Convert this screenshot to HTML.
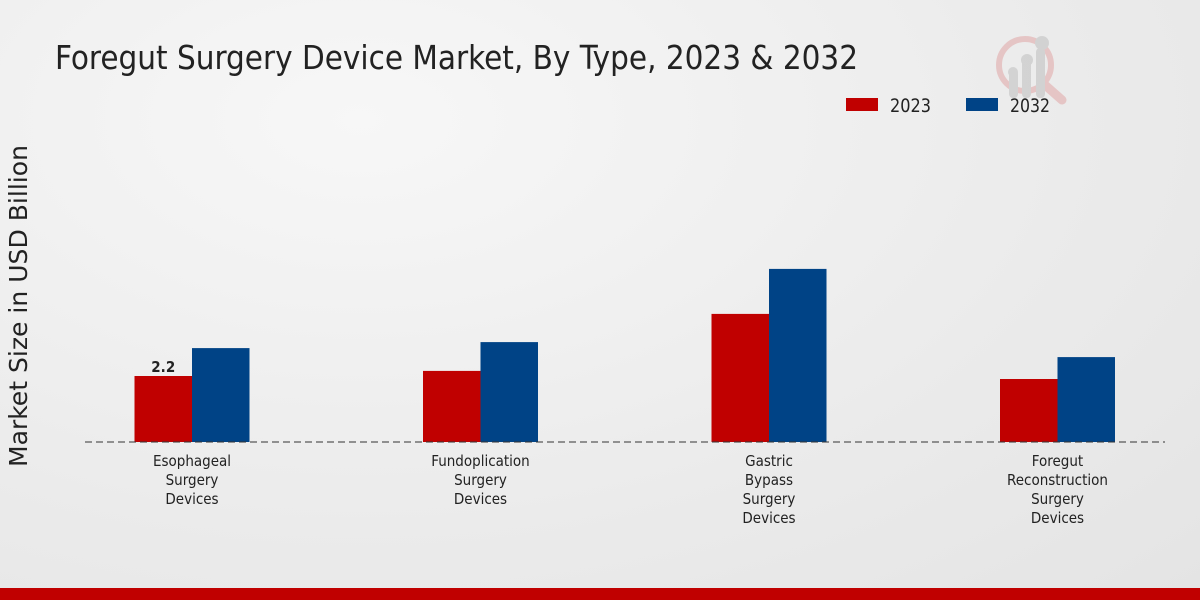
<!DOCTYPE html>
<html><head><meta charset="utf-8"><style>
html,body{margin:0;padding:0;width:1200px;height:600px;overflow:hidden}
body{background:radial-gradient(ellipse at 30% 20%,#f7f7f7 0%,#ebebeb 60%,#e4e4e4 100%);font-family:"DejaVu Sans Condensed","Liberation Sans Narrow","Liberation Sans",sans-serif}
</style></head><body>
<svg width="1200" height="600" xmlns="http://www.w3.org/2000/svg">
<text x="55" y="69" font-size="33" fill="#222" textLength="803" lengthAdjust="spacingAndGlyphs">Foregut Surgery Device Market, By Type, 2023 &amp; 2032</text>
<g opacity="0.5">
<circle cx="1025" cy="65" r="26" fill="none" stroke="#e0a0a0" stroke-width="6"/>
<line x1="1045" y1="85" x2="1062" y2="100" stroke="#e0a0a0" stroke-width="9" stroke-linecap="round"/>
<rect x="1009" y="70" width="9" height="28" rx="4" fill="#bbb"/><rect x="1022" y="60" width="9" height="38" rx="4" fill="#bbb"/><rect x="1036" y="48" width="9" height="50" rx="4" fill="#bbb"/>
<circle cx="1013" cy="72" r="5" fill="#bbb"/><circle cx="1027" cy="60" r="6" fill="#bbb"/><circle cx="1042" cy="43" r="7" fill="#bbb"/>
</g>
<g>
<rect x="846" y="98" width="32" height="13" fill="#c00000"/>
<text x="890" y="112" font-size="19" fill="#222" textLength="41" lengthAdjust="spacingAndGlyphs">2023</text>
<rect x="966" y="98" width="32" height="13" fill="#004386"/>
<text x="1010" y="112" font-size="19" fill="#222" textLength="40" lengthAdjust="spacingAndGlyphs">2032</text>
</g>
<text transform="translate(27,306) rotate(-90)" text-anchor="middle" font-size="25" fill="#222" textLength="322" lengthAdjust="spacingAndGlyphs">Market Size in USD Billion</text>
<g id="bars"></g>
<line x1="85" y1="442" x2="1165" y2="442" stroke="#333" stroke-width="1" stroke-dasharray="7,4"/>
<g id="labels"></g>
<rect x="0" y="588" width="1200" height="12" fill="#c00000"/>
</svg>
<script>
const categories=[["Esophageal","Surgery","Devices"],["Fundoplication","Surgery","Devices"],["Gastric","Bypass","Surgery","Devices"],["Foregut","Reconstruction","Surgery","Devices"]];
const values2023=[2.2,2.37,4.27,2.1];
const values2032=[3.13,3.33,5.77,2.83];
const valueLabels=["2.2",null,null,null];
const NS="http://www.w3.org/2000/svg";
const baseY=442, pxPerUnit=30, x0=192, step=288.5, bw=57.5;
const yScale=v=>baseY-v*pxPerUnit;
const xCenter=i=>x0+i*step;
const bars=document.getElementById('bars'), labels=document.getElementById('labels');
function mk(tag,attrs){const e=document.createElementNS(NS,tag);for(const k in attrs)e.setAttribute(k,attrs[k]);return e;}
categories.forEach((cat,i)=>{
  const c=xCenter(i);
  const r1=mk('rect',{x:c-bw,y:yScale(values2023[i]),width:bw,height:baseY-yScale(values2023[i]),fill:'#c00000'});
  
  
  bars.appendChild(r1);
  const r2=mk('rect',{x:c,y:yScale(values2032[i]),width:bw,height:baseY-yScale(values2032[i]),fill:'#004386'});
  
  
  bars.appendChild(r2);
  if(valueLabels[i]){
    const t=mk('text',{x:c-bw/2,y:yScale(values2023[i])-4,'text-anchor':'middle','font-size':'15','font-weight':'bold',fill:'#222'});
    t.textContent=valueLabels[i];
    
    
    bars.appendChild(t);
  }
  cat.forEach((line,j)=>{
    const t=mk('text',{x:c,y:466+j*19,'text-anchor':'middle','font-size':'15',fill:'#222'});
    t.textContent=line;
    
    
    labels.appendChild(t);
  });
});
</script>
</body></html>
